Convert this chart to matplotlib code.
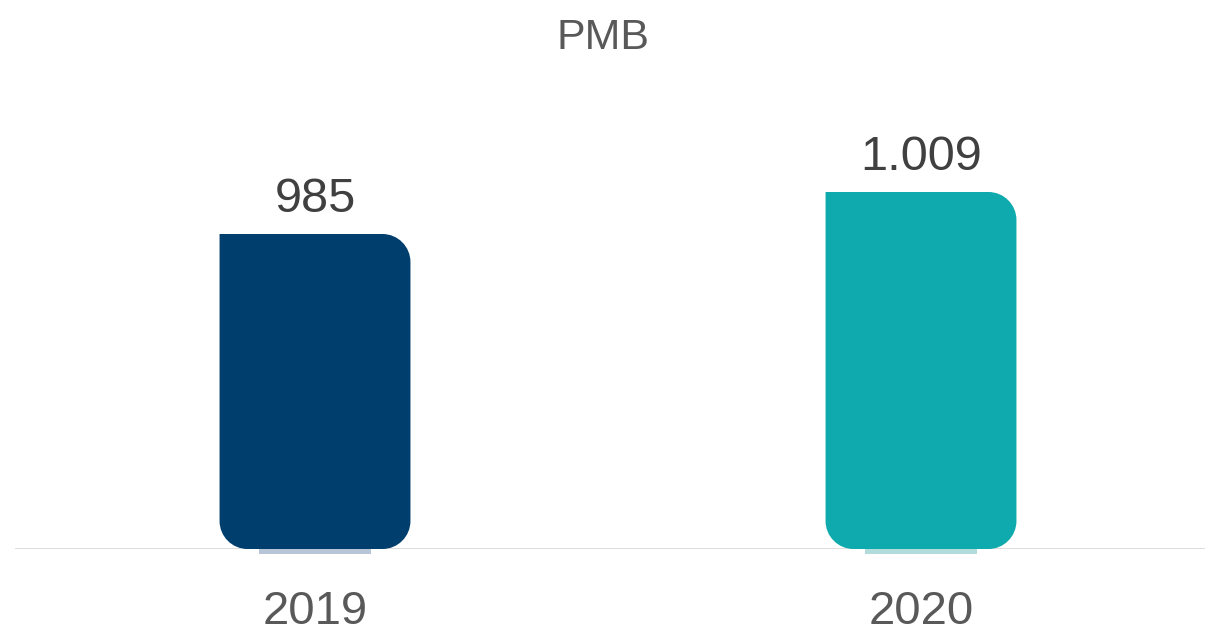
import matplotlib
matplotlib.use("Agg")
import matplotlib.pyplot as plt
from matplotlib.path import Path
from matplotlib.patches import PathPatch, Rectangle

# data
years = ["2019", "2020"]
values = [985, 1009]
value_labels = ["985", "1.009"]
bar_colors = ["#003E6D", "#0FAAAD"]
strip_colors = ["#B7C6D6", "#B2DCDC"]
title = "PMB"

plt.rcParams["font.family"] = ["Liberation Sans", "DejaVu Sans"]

Y_MIN = 805
PX_PER_UNIT = 1.75          # vertical pixels per value unit
X_PX_PER_SLOT = 606         # horizontal pixels between bar centres
BAR_W = 0.315
RADIUS_PX = 28
K = 0.5523


def rounded_bar(x0, x1, y0, y1, rx, ry):
    """Bar with square top-left corner, rounded top-right and bottom corners."""
    verts = [
        (x0, y1),
        (x1 - rx, y1),
        (x1 - rx + K * rx, y1), (x1, y1 - ry + K * ry), (x1, y1 - ry),
        (x1, y0 + ry),
        (x1, y0 + ry - K * ry), (x1 - rx + K * rx, y0), (x1 - rx, y0),
        (x0 + rx, y0),
        (x0 + rx - K * rx, y0), (x0, y0 + ry - K * ry), (x0, y0 + ry),
        (x0, y1),
        (x0, y1),
    ]
    codes = ([Path.MOVETO, Path.LINETO] + [Path.CURVE4] * 3 + [Path.LINETO]
             + [Path.CURVE4] * 3 + [Path.LINETO] + [Path.CURVE4] * 3
             + [Path.LINETO, Path.CLOSEPOLY])
    return Path(verts, codes)


fig = plt.figure(figsize=(12.07, 6.35), dpi=100)
W, H = 1207, 635
base_px = 549
ax_left, ax_right = 15, 1205
ax = fig.add_axes([ax_left / W, (H - base_px) / H, (ax_right - ax_left) / W, base_px / H])

first_center = 315
ax.set_xlim(-(first_center - ax_left) / X_PX_PER_SLOT,
            (ax_right - first_center) / X_PX_PER_SLOT)
ax.set_ylim(Y_MIN, Y_MIN + base_px / PX_PER_UNIT)

rx = RADIUS_PX / X_PX_PER_SLOT
ry = RADIUS_PX / PX_PER_UNIT
for i, (v, c, sc, lab) in enumerate(zip(values, bar_colors, strip_colors, value_labels)):
    path = rounded_bar(i - BAR_W / 2, i + BAR_W / 2, Y_MIN, v, rx, ry)
    ax.add_patch(PathPatch(path, facecolor=c, edgecolor="none", zorder=3))
    ax.add_patch(Rectangle((i - 0.092, Y_MIN - 3.0), 0.184, 3.0, facecolor=sc,
                           edgecolor="none", clip_on=False, zorder=2))
    ax.text(i, v + 12.5, lab, ha="center", va="baseline", fontsize=35, color="#404040")
    ax.text(i, Y_MIN - 43, years[i], ha="center", va="baseline", fontsize=34,
            color="#595959", clip_on=False)

ax.axhline(Y_MIN, color="#D9D9D9", linewidth=2, zorder=1)
for s in ax.spines.values():
    s.set_visible(False)
ax.set_xticks([])
ax.set_yticks([])

fig.text(0.5, 1 - 38 / H, title, ha="center", va="center", fontsize=31, color="#595959")

fig.savefig("out.png", dpi=100)
